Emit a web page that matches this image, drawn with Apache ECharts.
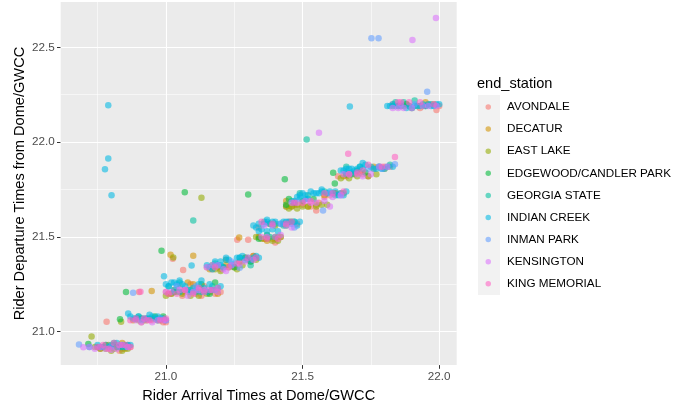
<!DOCTYPE html>
<html>
<head>
<meta charset="utf-8">
<script src="https://cdn.jsdelivr.net/npm/echarts@6.0.0/dist/echarts.min.js"></script>
<style>
html,body{margin:0;padding:0;background:#fff;}
#chart{width:688px;height:408px;}
</style>
</head>
<body>
<div id="chart"></div>
<script>
// ---- data ----
const stations = ["AVONDALE","DECATUR","EAST LAKE","EDGEWOOD/CANDLER PARK","GEORGIA STATE","INDIAN CREEK","INMAN PARK","KENSINGTON","KING MEMORIAL"];
const stationColors = ["#F8766D","#D39200","#93AA00","#00BA38","#00C19F","#00B9E3","#619CFF","#DB72FB","#FF61C3"];

const avondale = [[20.80,20.92],[20.84,20.91],[20.86,20.93],[20.91,21.05],[20.95,21.06],[20.99,21.05],[20.783,21.052],
  [21.02,21.20],[21.08,21.21],[21.14,21.24],[21.18,21.20],[20.902,21.209],[21.025,21.385],[21.063,21.325],
  [21.17,21.33],[21.24,21.35],[21.30,21.38],[21.33,21.39],[21.34,21.50],[21.40,21.49],[21.45,21.58],[21.261,21.485],[21.301,21.485],
  [21.47,21.67],[21.53,21.66],[21.60,21.72],[21.64,21.73],[21.66,21.82],[21.72,21.83],[21.80,21.87],
  [21.86,22.19],[21.93,22.18],[21.99,22.17],
  [20.78,20.93],[20.82,20.92],[20.87,20.92],[20.76,20.91],[20.89,21.07],[20.93,21.07],[20.97,21.06],[21.00,21.05],
  [21.00,21.21],[21.05,21.23],[21.11,21.20],[21.16,21.22],[21.20,21.21],[21.09,21.25],
  [21.15,21.34],[21.20,21.33],[21.27,21.37],[21.32,21.40],[21.22,21.38],
  [21.36,21.49],[21.42,21.50],[21.38,21.57],[21.48,21.57],[21.34,21.55],
  [21.44,21.66],[21.50,21.67],[21.56,21.68],[21.62,21.73],[21.58,21.71],
  [21.63,21.82],[21.69,21.83],[21.76,21.86],[21.82,21.87],[21.74,21.82],
  [21.83,22.20],[21.89,22.19],[21.96,22.20],[22.00,22.19],
  [20.83,20.90],[21.06,21.19],[21.13,21.19],[21.40,21.47],[21.55,21.64]];
const decatur = [[20.79,20.93],[20.83,20.92],[20.85,20.91],[20.90,21.07],[20.97,21.07],
  [21.03,21.22],[21.10,21.25],[21.16,21.21],[20.948,21.215],[21.017,21.406],[21.100,21.401],
  [21.19,21.34],[21.27,21.37],[21.32,21.40],[21.36,21.49],[21.41,21.50],[21.38,21.57],[21.268,21.497],
  [21.46,21.66],[21.55,21.67],[21.62,21.73],[21.44,21.69],[21.68,21.83],[21.76,21.87],[21.88,22.20],[21.95,22.21],
  [20.77,20.92],[20.81,20.93],[20.86,20.92],[20.84,20.94],[20.88,21.06],[20.93,21.06],[20.99,21.07],
  [21.01,21.20],[21.06,21.21],[21.13,21.22],[21.19,21.20],[21.08,21.26],
  [21.16,21.33],[21.22,21.35],[21.29,21.39],[21.25,21.34],
  [21.34,21.50],[21.39,21.49],[21.43,21.57],[21.37,21.48],
  [21.48,21.67],[21.52,21.66],[21.58,21.72],[21.65,21.73],
  [21.65,21.82],[21.71,21.84],[21.80,21.86],[21.85,22.19],[21.92,22.19],[21.98,22.20]];
const eastLake = [[20.76,20.91],[20.81,20.91],[20.84,20.90],[20.728,20.975],[20.74,20.92],[20.836,21.052],[20.92,21.06],
  [21.00,21.19],[21.06,21.20],[21.12,21.19],[21.027,21.392],[21.20,21.32],[21.26,21.33],[21.31,21.37],
  [21.35,21.49],[21.39,21.48],[21.42,21.50],[21.44,21.66],[21.48,21.65],[21.52,21.66],[21.57,21.67],
  [21.67,21.81],[21.74,21.82],[21.90,22.18],[21.13,21.707],
  [20.78,20.91],[20.80,20.90],[20.83,20.92],[20.86,20.91],[20.90,21.06],[20.95,21.07],[20.98,21.06],
  [21.02,21.20],[21.09,21.19],[21.15,21.20],[21.04,21.21],
  [21.18,21.33],[21.23,21.34],[21.28,21.35],[21.33,21.38],
  [21.37,21.49],[21.41,21.48],[21.33,21.50],[21.40,21.56],
  [21.46,21.66],[21.50,21.66],[21.55,21.66],[21.59,21.67],[21.45,21.65],
  [21.64,21.81],[21.70,21.82],[21.77,21.83],[21.87,22.19],[21.94,22.19]];
const edgewood = [[20.716,20.935],[20.82,20.92],[20.832,21.066],[20.96,21.08],[20.854,21.209],[20.984,21.427],[21.09,21.22],[21.18,21.26],
  [21.25,21.34],[21.29,21.39],[21.37,21.51],[21.44,21.56],[21.45,21.70],[21.50,21.69],[21.435,21.804],
  [21.612,21.839],[21.618,21.782],[21.70,21.85],[21.95,22.19],[21.069,21.735],[21.301,21.724],
  [20.75,20.92],[20.85,20.93],[20.91,21.07],[20.99,21.08],[21.03,21.21],[21.13,21.25],[21.16,21.20],
  [21.17,21.35],[21.21,21.34],[21.31,21.37],[21.34,21.49],[21.40,21.50],[21.46,21.58],
  [21.47,21.68],[21.54,21.70],[21.44,21.67],[21.66,21.83],[21.73,21.84],[21.88,22.20],[21.83,22.19]];
const georgiaState = [[20.78,20.93],[20.94,21.07],[21.05,21.26],[21.100,21.586],[21.22,21.38],[21.31,21.35],
  [21.40,21.57],[21.47,21.58],[21.58,21.74],[21.52,21.72],[21.66,21.87],[21.82,21.88],[21.515,22.014],[21.84,22.21],[21.91,22.22],
  [20.84,20.92],[20.81,20.94],[20.90,21.08],[20.97,21.06],[21.01,21.24],[21.11,21.21],[21.17,21.24],
  [21.18,21.36],[21.27,21.39],[21.36,21.58],[21.43,21.56],[21.38,21.50],
  [21.49,21.73],[21.62,21.72],[21.46,21.69],[21.71,21.87],[21.78,21.87],[21.68,21.83],[21.87,22.21],[21.97,22.20]];
const indianCreek = [[20.75,20.93],[20.79,20.92],[20.82,20.94],[20.85,20.92],[20.87,20.93],[20.77,20.92],
  [20.862,21.096],[20.88,21.07],[20.93,21.07],[20.97,21.08],[20.99,21.07],[21.00,21.06],
  [20.993,21.293],[21.00,21.25],[21.03,21.26],[21.05,21.21],[21.07,21.24],[21.10,21.23],[21.13,21.21],[21.16,21.25],[21.19,21.23],[21.094,21.349],
  [21.16,21.34],[21.20,21.35],[21.22,21.39],[21.25,21.36],[21.28,21.40],[21.31,21.38],[21.33,21.40],[21.18,21.37],
  [21.33,21.55],[21.36,21.57],[21.39,21.58],[21.43,21.58],[21.46,21.57],[21.49,21.58],[21.35,21.54],[21.41,21.53],
  [21.47,21.69],[21.49,21.72],[21.53,21.74],[21.56,21.73],[21.60,21.74],[21.63,21.72],[21.66,21.74],[21.52,21.70],
  [21.64,21.85],[21.66,21.86],[21.70,21.86],[21.73,21.88],[21.77,21.86],[21.80,21.86],[21.83,21.87],[21.68,21.84],
  [21.81,22.19],[21.84,22.19],[21.88,22.18],[21.92,22.19],[21.94,22.20],[21.97,22.19],[22.00,22.20],[21.673,22.188],
  [20.789,22.195],[20.789,21.913],[20.777,21.857],[20.801,21.72],
  [20.76,20.92],[20.80,20.93],[20.83,20.92],[20.86,20.93],[20.72,20.92],[20.84,20.93],
  [20.87,21.08],[20.90,21.08],[20.92,21.07],[20.95,21.08],[20.96,21.07],[20.98,21.07],[20.89,21.07],
  [21.01,21.24],[21.02,21.26],[21.04,21.25],[21.06,21.25],[21.08,21.22],[21.09,21.21],[21.11,21.22],[21.12,21.25],[21.14,21.23],[21.15,21.21],[21.17,21.22],[21.20,21.24],[21.03,21.22],
  [21.15,21.35],[21.17,21.33],[21.19,21.35],[21.21,21.34],[21.23,21.38],[21.24,21.35],[21.26,21.39],[21.27,21.39],[21.29,21.38],[21.30,21.39],[21.32,21.39],[21.34,21.39],[21.20,21.37],
  [21.32,21.56],[21.34,21.57],[21.37,21.58],[21.38,21.57],[21.40,21.58],[21.42,21.57],[21.44,21.58],[21.45,21.58],[21.47,21.58],[21.48,21.56],[21.34,21.53],[21.37,21.53],[21.39,21.54],
  [21.48,21.71],[21.50,21.73],[21.51,21.72],[21.54,21.73],[21.55,21.73],[21.57,21.74],[21.59,21.73],[21.61,21.73],[21.62,21.74],[21.64,21.73],[21.65,21.72],[21.49,21.70],[21.51,21.70],
  [21.65,21.85],[21.67,21.86],[21.68,21.86],[21.69,21.85],[21.71,21.87],[21.72,21.86],[21.75,21.87],[21.76,21.86],[21.78,21.87],[21.79,21.86],[21.81,21.87],[21.66,21.84],
  [21.82,22.19],[21.83,22.20],[21.85,22.19],[21.86,22.19],[21.89,22.19],[21.90,22.18],[21.91,22.19],[21.93,22.19],[21.95,22.19],[21.96,22.20],[21.98,22.19],[21.99,22.20],
  [21.05,21.27],[21.13,21.27],[21.37,21.59],[21.57,21.75],[21.72,21.89],[20.94,21.09]];
const inmanPark = [[20.682,20.932],[20.83,20.93],[20.98,21.07],[20.880,21.206],[21.11,21.24],[21.27,21.337],[21.47,21.55],
  [21.575,21.639],[21.64,21.72],[21.838,21.883],[21.79,21.86],[21.956,22.265],[21.86,22.20],[21.752,22.548],[21.778,22.548],
  [20.80,20.92],[20.86,20.92],[20.91,21.06],[21.04,21.24],[21.18,21.22],[21.24,21.37],[21.42,21.57],[21.60,21.73],[21.74,21.86],[21.91,22.20]];
const kensington = [[20.698,20.918],[20.78,20.91],[20.84,20.93],[20.72,20.92],[20.89,21.06],[20.95,21.05],[20.99,21.06],
  [21.02,21.21],[21.07,21.22],[21.14,21.22],[21.19,21.21],[21.17,21.35],[21.21,21.33],[21.27,21.36],[21.32,21.38],
  [21.37,21.50],[21.42,21.51],[21.39,21.56],[21.46,21.55],[21.48,21.68],[21.51,21.69],[21.55,21.68],[21.61,21.71],
  [21.67,21.83],[21.72,21.82],[21.78,21.87],[21.87,22.18],[21.96,22.19],[21.83,22.18],[21.56,22.049],[21.902,22.539],[21.988,22.655],
  [20.76,20.92],[20.82,20.91],[20.86,20.92],[20.74,20.91],[20.91,21.05],[20.93,21.06],[20.97,21.06],[21.00,21.06],
  [21.00,21.21],[21.05,21.22],[21.10,21.21],[21.16,21.22],[21.12,21.22],
  [21.15,21.34],[21.19,21.35],[21.24,21.35],[21.29,21.37],
  [21.35,21.50],[21.40,21.50],[21.44,21.56],[21.36,21.56],
  [21.46,21.68],[21.53,21.68],[21.58,21.69],[21.64,21.72],
  [21.65,21.83],[21.70,21.83],[21.75,21.83],[21.81,21.87],
  [21.85,22.18],[21.90,22.18],[21.94,22.19],[21.99,22.19],
  [20.80,20.905],[21.08,21.19],[21.22,21.32],[21.60,21.66]];
const kingMemorial = [[20.81,20.94],[20.85,20.93],[20.79,20.91],[20.92,21.07],[20.98,21.06],[20.87,21.06],
  [21.04,21.20],[21.12,21.23],[21.17,21.22],[20.907,21.211],[21.23,21.34],[21.30,21.39],
  [21.35,21.58],[21.44,21.57],[21.37,21.49],[21.50,21.68],[21.58,21.73],[21.65,21.74],
  [21.70,21.84],[21.74,21.88],[21.667,21.939],[21.838,21.921],[21.89,22.21],[21.98,22.20],[21.85,22.21],
  [20.77,20.93],[20.83,20.93],[20.87,20.92],[20.75,20.92],[20.89,21.07],[20.94,21.06],[21.00,21.07],
  [21.01,21.20],[21.07,21.22],[21.14,21.21],[21.19,21.23],[21.10,21.20],
  [21.18,21.34],[21.26,21.36],[21.33,21.39],[21.39,21.57],[21.46,21.58],[21.41,21.49],
  [21.53,21.69],[21.61,21.73],[21.47,21.68],[21.67,21.83],[21.72,21.85],[21.79,21.87],[21.86,22.21],[21.93,22.21]];

const xMajorTicks = [21.0, 21.5, 22.0];
const xMinorTicks = [20.75, 21.25, 21.75];
const yMajorTicks = [21.0, 21.5, 22.0, 22.5];
const yMinorTicks = [21.25, 21.75, 22.25];

const stationData = [avondale, decatur, eastLake, edgewood, georgiaState, indianCreek, inmanPark, kensington, kingMemorial];

// ---- chart ----
const chart = echarts.init(document.getElementById('chart'), null, {renderer: 'canvas'});

const gridLines = [];
xMinorTicks.forEach(v => gridLines.push({xAxis: v, lineStyle: {color: '#FFFFFF', width: 0.55, type: 'solid'}}));
yMinorTicks.forEach(v => gridLines.push({yAxis: v, lineStyle: {color: '#FFFFFF', width: 0.55, type: 'solid'}}));
xMajorTicks.forEach(v => gridLines.push({xAxis: v, lineStyle: {color: '#FFFFFF', width: 1.1, type: 'solid'}}));
yMajorTicks.forEach(v => gridLines.push({yAxis: v, lineStyle: {color: '#FFFFFF', width: 1.1, type: 'solid'}}));

const series = [{
  type: 'scatter', name: '_grid', data: [], silent: true, z: 1,
  markLine: {silent: true, symbol: ['none','none'], label: {show: false}, z: 1, animation: false, data: gridLines}
}];
stations.forEach((s, i) => {
  series.push({
    type: 'scatter', name: s, data: stationData[i], symbol: 'circle', symbolSize: 6.5,
    itemStyle: {color: stationColors[i], opacity: 0.58}, z: 2
  });
});

const fontFam = '"Liberation Sans", Arial, sans-serif';
chart.setOption({
  animation: false,
  backgroundColor: '#FFFFFF',
  title: {text: 'end_station', left: 477, top: 76, padding: 0,
    textStyle: {fontFamily: fontFam, fontSize: 14.6, fontWeight: 'normal', color: '#000000'}},
  graphic: [{type: 'rect', left: 478, top: 95, shape: {width: 22, height: 200}, style: {fill: '#F2F2F2'}, silent: true, z: -1}],
  legend: {
    data: stations, orient: 'vertical', left: 485.5, top: 100, padding: 0,
    itemWidth: 5.5, itemHeight: 5.5, itemGap: 8.1, icon: 'circle',
    formatter: n => '{s| }' + n,
    textStyle: {fontFamily: fontFam, fontSize: 11.7, color: '#000000', lineHeight: 14,
      rich: {s: {width: 11, fontSize: 11.7, lineHeight: 14}}},
    selectedMode: false
  },
  grid: {left: 60.7, right: 231.3, top: 2, bottom: 40, show: true, backgroundColor: '#EBEBEB', borderWidth: 0, containLabel: false},
  xAxis: {
    type: 'value', min: 20.615, max: 22.064,
    name: 'Rider Arrival Times at Dome/GWCC', nameLocation: 'middle', nameGap: 20,
    nameTextStyle: {fontFamily: fontFam, fontSize: 14.6, color: '#000000'},
    axisLine: {show: false}, splitLine: {show: false},
    axisTick: {show: true, length: 3.7, lineStyle: {color: '#333333', width: 1}, customValues: xMajorTicks},
    axisLabel: {fontFamily: fontFam, fontSize: 11.7, color: '#4D4D4D', margin: 6, customValues: xMajorTicks,
      formatter: v => v.toFixed(1)}
  },
  yAxis: {
    type: 'value', min: 20.824, max: 22.739,
    name: 'Rider Departure Times from Dome/GWCC', nameLocation: 'middle', nameGap: 33, nameMoveOverlap: false,
    nameTextStyle: {fontFamily: fontFam, fontSize: 14.6, color: '#000000'},
    axisLine: {show: false}, splitLine: {show: false},
    axisTick: {show: true, length: 3.7, lineStyle: {color: '#333333', width: 1}, customValues: yMajorTicks},
    axisLabel: {fontFamily: fontFam, fontSize: 11.7, color: '#4D4D4D', margin: 6, customValues: yMajorTicks,
      formatter: v => v.toFixed(1)}
  },
  series: series
});
</script>
</body>
</html>
